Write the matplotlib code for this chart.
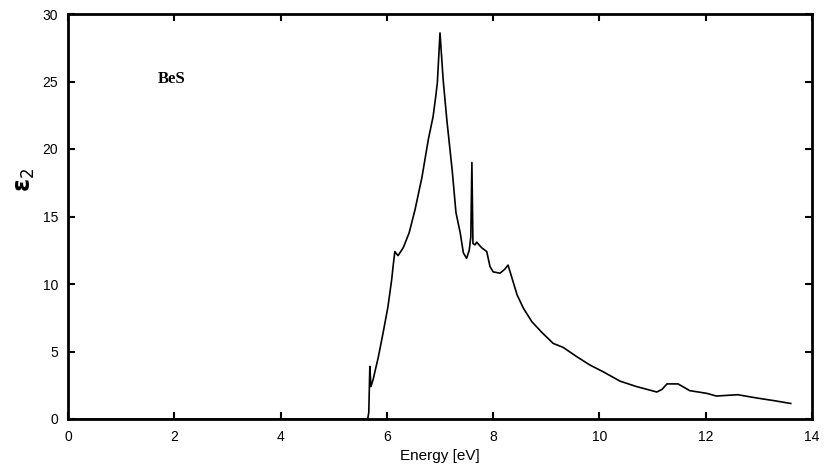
import matplotlib
matplotlib.use("Agg")
import matplotlib.pyplot as plt

energy = [0.0, 5.6, 5.64, 5.66, 5.68, 5.70, 5.74, 5.84, 5.93, 6.02, 6.09, 6.12, 6.15, 6.21, 6.31,
          6.42, 6.53, 6.66, 6.78, 6.87, 6.92, 6.95, 7.0, 7.06, 7.13, 7.23, 7.30, 7.38,
          7.44, 7.5, 7.55, 7.58, 7.60, 7.62, 7.66, 7.69, 7.78, 7.88, 7.94, 8.0, 8.13,
          8.22, 8.28, 8.35, 8.45, 8.57, 8.73, 8.92, 9.13, 9.32, 9.58, 9.82, 10.07,
          10.39, 10.7, 11.08, 11.18, 11.27, 11.48, 11.7, 12.02, 12.2, 12.6, 12.97,
          13.3, 13.6]
eps2 = [0.0, 0.0, 0.0, 0.5, 3.9, 2.4, 2.9, 4.6, 6.4, 8.3, 10.3, 11.4, 12.4, 12.1, 12.7,
        13.8, 15.5, 17.9, 20.7, 22.4, 23.9, 24.9, 28.6, 25.1, 22.1, 18.4, 15.3, 13.8,
        12.3, 11.9, 12.5, 13.5, 19.0, 13.0, 12.9, 13.1, 12.7, 12.4, 11.3, 10.9, 10.8,
        11.1, 11.4, 10.5, 9.2, 8.2, 7.2, 6.4, 5.6, 5.3, 4.6, 4.0, 3.5,
        2.8, 2.4, 2.0, 2.2, 2.6, 2.6, 2.1, 1.9, 1.7, 1.8, 1.55,
        1.35, 1.15]

xticks = [0, 2, 4, 6, 8, 10, 12, 14]
yticks = [0, 5, 10, 15, 20, 25, 30]

fig = plt.figure(figsize=(8.32, 4.68), dpi=100)
ax = fig.add_axes([68/832, 49/468, (812-68)/832, (419-14)/468])
ax.plot(energy, eps2, color='black', lw=1.2)
ax.set_xlim(0, 14)
ax.set_ylim(0, 30)
ax.set_xticks(xticks)
ax.set_yticks(yticks)
ax.tick_params(direction='in', top=True, right=True, length=5, width=1.5,
               labelsize=10)
ax.tick_params(axis='x', pad=8)
ax.tick_params(axis='y', pad=7)
for lab in ax.get_xticklabels() + ax.get_yticklabels():
    lab.set_fontfamily('Liberation Sans')
for s in ax.spines.values():
    s.set_linewidth(2)
ax.set_xlabel('Energy [eV]', fontsize=11, family='Liberation Sans')
ax.xaxis.set_label_coords(0.5, -0.075)
ax.set_ylabel('ε$_2$', fontsize=17, fontweight='bold', family='DejaVu Sans')
ax.yaxis.set_label_coords(-0.042, 0.59)
ax.text(1.69, 25.2, 'BeS', fontsize=12, fontweight='bold', family='Liberation Serif',
        va='center')
fig.savefig('out.png', dpi=100)
